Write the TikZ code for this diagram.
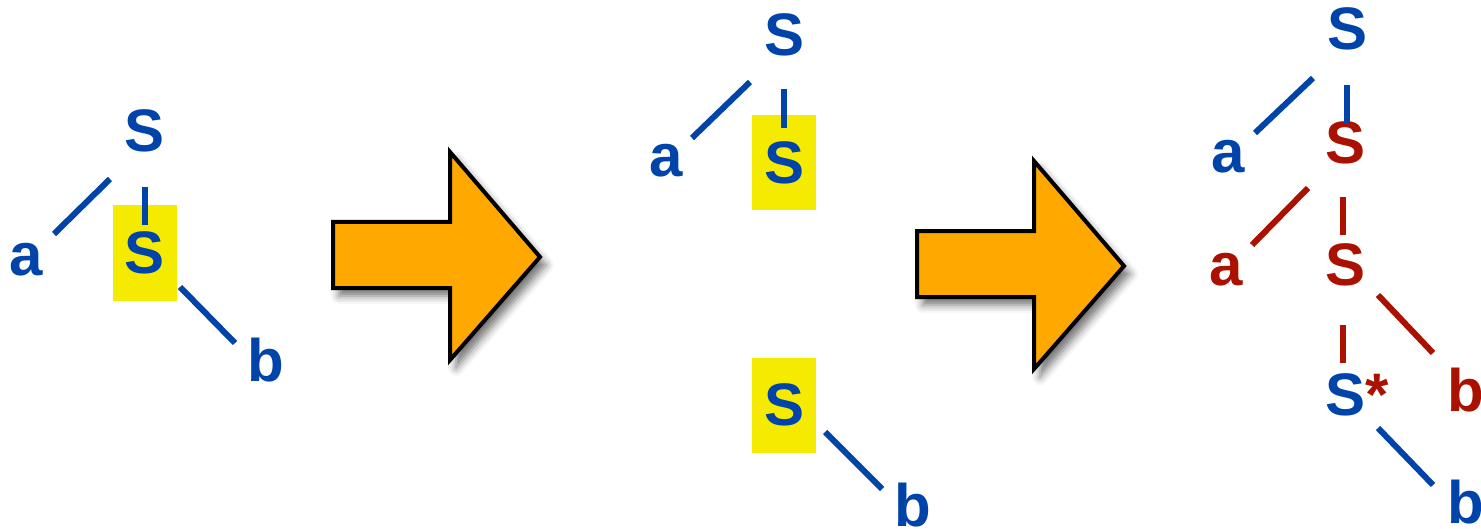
\documentclass[tikz,border=0pt]{standalone}
\usepackage{fontspec}
\setmainfont{Liberation Sans}
\usetikzlibrary{shadows.blur}
\definecolor{baumblau}{HTML}{0044AA}
\definecolor{baumrot}{HTML}{AA1100}
\definecolor{markgelb}{HTML}{F5EB00}
\definecolor{pfeilorange}{HTML}{FFA800}

\begin{document}
\begin{tikzpicture}[x=0.5pt,y=-0.5pt,
  sym/.style={inner sep=0pt,font=\fontsize{30}{36}\selectfont\bfseries,text=baumblau},
  rsym/.style={sym,text=baumrot},
  hlsym/.style={sym,fill=markgelb,minimum width=32pt,minimum height=47.5pt},
  ast/.style={line width=3pt,baumblau},
  rast/.style={ast,baumrot},
  pfeil/.style={draw=black,line width=2pt,fill=pfeilorange,line join=miter,
    blur shadow={shadow xshift=3pt,shadow yshift=-4pt,shadow blur radius=4pt,shadow opacity=55}}]
  \useasboundingbox (0,0) rectangle (1481,529);
  % Pfeile
  \foreach \dx/\dy in {0/0,584/9}
    \draw[pfeil,shift={(\dx,\dy)}] (333,222) -- (450,222) -- (450,152) -- (540,257)
      -- (450,360) -- (450,288) -- (333,288) -- cycle;
  % Baum links
  \node[sym] (t1s) at (145,131) {S};
  \node[sym] (t1a) at (26,260) {a};
  \node[hlsym] (t1m) at (145,253) {S};
  \node[sym] (t1b) at (266,360) {b};
  \draw[ast] ([shift={(28,-26)}]t1a.center) -- ([shift={(-35,48)}]t1s.center);
  \draw[ast] ([shift={(0,56)}]t1s.center) -- ([shift={(0,-28)}]t1m.center);
  \draw[ast] ([shift={(35,34)}]t1m.center) -- ([shift={(-31,-17)}]t1b.center);
  % Baum Mitte
  \node[sym] (t2s) at (784,35) {S};
  \node[sym] (t2a) at (666,161) {a};
  \node[hlsym] (t2m) at (784,163) {S};
  \node[hlsym] (t2n) at (784,405) {S};
  \node[sym] (t2b) at (913,505) {b};
  \draw[ast] ([shift={(26,-23)}]t2a.center) -- ([shift={(-34,47)}]t2s.center);
  \draw[ast] ([shift={(0,54)}]t2s.center) -- ([shift={(0,-35)}]t2m.center);
  \draw[ast] ([shift={(41,27)}]t2n.center) -- ([shift={(-31,-16)}]t2b.center);
  % Baum rechts
  \node[sym] (t3s) at (1347,29) {S};
  \node[sym] (t3a) at (1228,157) {a};
  \node[rsym] (t3m) at (1345,143) {S};
  \node[rsym] (t3c) at (1226,270) {a};
  \node[rsym] (t3n) at (1345,265) {S};
  \node[rsym] (t3d) at (1466,390) {b};
  \node[sym,label={[rsym,anchor=north west]north east:*}] (t3t) at (1345,395) {S};
  \node[sym] (t3e) at (1466,502) {b};
  \draw[ast] ([shift={(27,-24)}]t3a.center) -- ([shift={(-34,49)}]t3s.center);
  \draw[ast] ([shift={(0,56)}]t3s.center) -- ([shift={(2,-20)}]t3m.center);
  \draw[rast] ([shift={(26,-25)}]t3c.center) -- ([shift={(-37,45)}]t3m.center);
  \draw[rast] ([shift={(-2,54)}]t3m.center) -- ([shift={(-2,-30)}]t3n.center);
  \draw[rast] ([shift={(33,30)}]t3n.center) -- ([shift={(-33,-37)}]t3d.center);
  \draw[rast] ([shift={(-2,60)}]t3n.center) -- ([shift={(-2,-32)}]t3t.center);
  \draw[ast] ([shift={(33,33)}]t3t.center) -- ([shift={(-33,-17)}]t3e.center);
\end{tikzpicture}
\end{document}
